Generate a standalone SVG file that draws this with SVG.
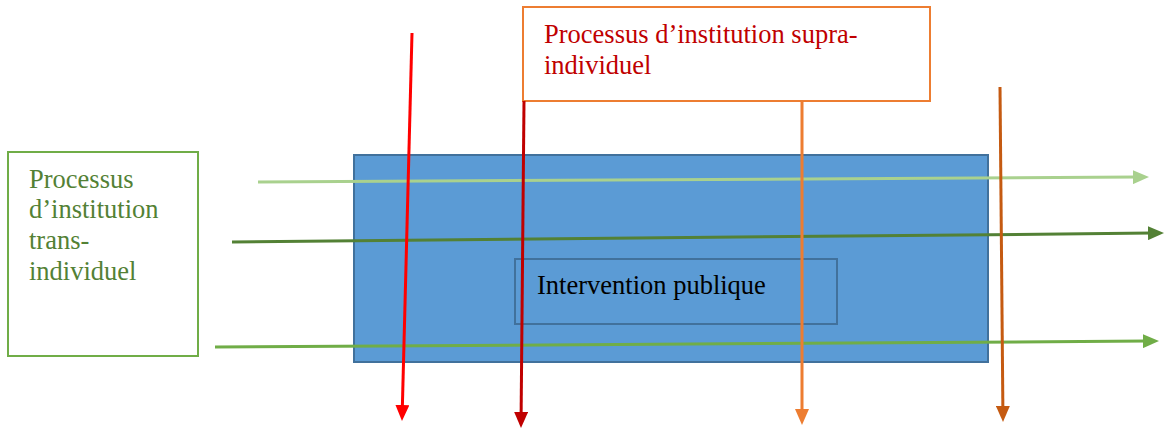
<svg xmlns="http://www.w3.org/2000/svg" width="1164" height="430" viewBox="0 0 1164 430">
<style>
.t{font-family:"Liberation Serif","Times New Roman",serif;font-size:26.5px}
.ln{stroke-width:3;fill:none}
</style>
<defs>
<marker id="mRed" viewBox="0 0 16 14" refX="4" refY="7" markerWidth="16" markerHeight="14" markerUnits="userSpaceOnUse" orient="auto"><path d="M0,0L16,7L0,14z" fill="#FF0000"/></marker>
<marker id="mDRed" viewBox="0 0 16 14" refX="4" refY="7" markerWidth="16" markerHeight="14" markerUnits="userSpaceOnUse" orient="auto"><path d="M0,0L16,7L0,14z" fill="#C00000"/></marker>
<marker id="mOr" viewBox="0 0 16 14" refX="4" refY="7" markerWidth="16" markerHeight="14" markerUnits="userSpaceOnUse" orient="auto"><path d="M0,0L16,7L0,14z" fill="#ED7D31"/></marker>
<marker id="mBr" viewBox="0 0 16 14" refX="4" refY="7" markerWidth="16" markerHeight="14" markerUnits="userSpaceOnUse" orient="auto"><path d="M0,0L16,7L0,14z" fill="#C55A11"/></marker>
<marker id="mLG" viewBox="0 0 16 14" refX="4" refY="7" markerWidth="16" markerHeight="14" markerUnits="userSpaceOnUse" orient="auto"><path d="M0,0L16,7L0,14z" fill="#A9D18E"/></marker>
<marker id="mDG" viewBox="0 0 16 14" refX="4" refY="7" markerWidth="16" markerHeight="14" markerUnits="userSpaceOnUse" orient="auto"><path d="M0,0L16,7L0,14z" fill="#538135"/></marker>
<marker id="mG" viewBox="0 0 16 14" refX="4" refY="7" markerWidth="16" markerHeight="14" markerUnits="userSpaceOnUse" orient="auto"><path d="M0,0L16,7L0,14z" fill="#70AD47"/></marker>
</defs>
<rect width="1164" height="430" fill="#FFFFFF"/>
<g id="intervention-zone">
<rect x="354" y="155" width="634" height="207" fill="#5B9BD5" stroke="#41719C" stroke-width="2"/>
</g>
<g id="intervention-publique">
<rect x="515" y="259" width="322" height="65" fill="none" stroke="#41719C" stroke-width="2"/>
<text class="t" x="537" y="294" fill="#000000">Intervention publique</text>
</g>
<g id="trans-individuel">
<rect x="8" y="152" width="190" height="204" fill="#FFFFFF" stroke="#70AD47" stroke-width="2"/>
<text class="t" fill="#538135"><tspan x="29" y="188">Processus</tspan><tspan x="29" y="218">d’institution</tspan><tspan x="29" y="249">trans-</tspan><tspan x="29" y="280">individuel</tspan></text>
</g>
<g id="supra-individuel">
<rect x="523" y="7" width="407" height="94" fill="#FFFFFF" stroke="#ED7D31" stroke-width="2"/>
<text class="t" fill="#C00000"><tspan x="544" y="43">Processus d’institution supra-</tspan><tspan x="544" y="74">individuel</tspan></text>
</g>
<g id="connectors">
<line class="ln" x1="258" y1="182" x2="1137" y2="177.1" stroke="#A9D18E" marker-end="url(#mLG)"/>
<line class="ln" x1="232" y1="242" x2="1152" y2="233.1" stroke="#538135" marker-end="url(#mDG)"/>
<line class="ln" x1="215" y1="347" x2="1147" y2="341.1" stroke="#70AD47" marker-end="url(#mG)"/>
<line class="ln" x1="412" y1="33" x2="402.3" y2="409" stroke="#FF0000" marker-end="url(#mRed)"/>
<line class="ln" x1="524" y1="101" x2="521.1" y2="416" stroke="#C00000" marker-end="url(#mDRed)"/>
<line class="ln" x1="802" y1="101" x2="802" y2="413" stroke="#ED7D31" marker-end="url(#mOr)"/>
<line class="ln" x1="1000" y1="87" x2="1002.9" y2="410" stroke="#C55A11" marker-end="url(#mBr)"/>
</g>
</svg>
